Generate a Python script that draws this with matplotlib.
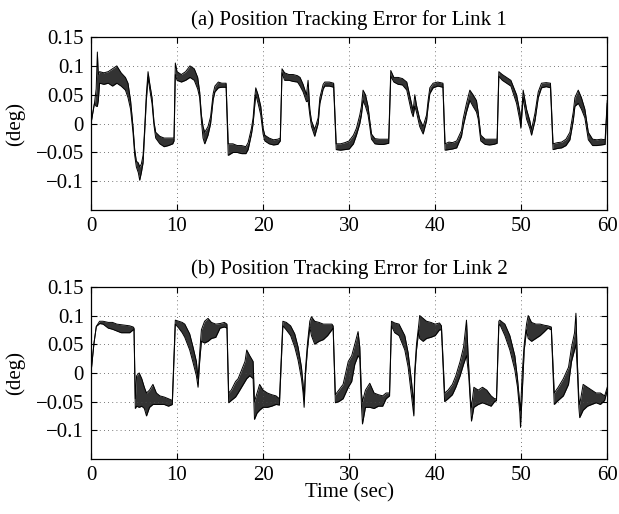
import numpy as np
import matplotlib
matplotlib.use("Agg")
import matplotlib.pyplot as plt

plt.rcParams['font.family'] = ['Liberation Serif', 'DejaVu Serif']

# ---- Link 1: (time, lower envelope, upper envelope) ----
link1_t = [0, 0.4, 0.6, 0.74, 0.85, 1.0, 1.5, 2.0, 2.5, 3.0, 3.5, 4.0, 4.3, 4.6, 4.88, 5.08, 5.27, 5.5, 5.66, 5.85,
           6.05, 6.24, 6.43, 6.63, 6.82, 7.09, 7.32, 7.52, 8.0, 8.5, 9.0, 9.5, 9.65, 9.8, 10.0, 10.5, 11.0, 11.5, 12.0, 12.4,
           12.63, 12.83, 13.02, 13.22, 13.6, 13.9, 14.2, 14.4, 14.8, 15.2, 15.7, 15.95, 16.5, 17.0, 17.5, 18.0, 18.26,
           18.65, 18.84, 19.03, 19.15, 19.42, 19.73, 20.0, 20.2, 20.7, 21.2, 21.7, 22.0, 22.2, 22.5, 23.0, 23.5, 24.0, 24.3,
           24.65, 25.04, 25.23, 25.43, 25.62, 26.0, 26.4, 26.6, 26.98, 27.17, 27.7, 28.2, 28.5, 29.0, 29.5, 30.0,
           30.5, 30.85, 31.24, 31.43, 31.62, 31.9, 32.2, 32.4, 32.6, 33.0, 33.5, 34.0, 34.6, 34.84, 35.2, 35.7, 36.2, 36.7,
           37.25, 37.44, 37.63, 37.83, 38.2, 38.6, 39.0, 39.18, 39.38, 39.76, 40.3, 40.9, 41.15, 41.6, 42.0, 42.5,
           43.06, 43.25, 43.64, 44.03, 44.4, 44.8, 45.0, 45.3, 45.8, 46.3, 46.8, 47.2, 47.4, 47.8, 48.3, 48.8,
           49.46, 49.85, 49.96, 50.23, 50.62, 51.0, 51.2, 51.6, 51.98, 52.36, 52.9, 53.4, 53.7, 54.2, 54.7, 55.2,
           55.66, 56.05, 56.24, 56.63, 57.0, 57.4, 57.8, 58.3, 58.8, 59.3, 59.75, 60.0]
link1_lo = [0, 0.035, 0.03, 0.03, 0.04, 0.07, 0.068, 0.07, 0.065, 0.07, 0.065, 0.058, 0.045, 0.025, -0.015, -0.055, -0.075, -0.085, -0.098, -0.085,
            -0.068, -0.015, 0.04, 0.08, 0.06, 0.035, -0.003, -0.025, -0.035, -0.04, -0.038, -0.035, -0.03, 0.085, 0.075, 0.072, 0.075, 0.08, 0.075, 0.06,
            0.045, 0.005, -0.025, -0.035, -0.02, 0.0, 0.042, 0.055, 0.062, 0.063, 0.063, -0.055, -0.05, -0.05, -0.052, -0.052, -0.045,
            -0.018, 0.0, 0.032, 0.05, 0.035, 0.015, -0.018, -0.03, -0.035, -0.037, -0.036, -0.03, 0.088, 0.075, 0.075, 0.073, 0.072, 0.065,
            0.055, 0.038, 0.04, 0.015, -0.005, -0.022, 0.0, 0.035, 0.06, 0.065, 0.065, 0.063, -0.045, -0.046, -0.045, -0.044,
            -0.035, -0.02, 0.0, 0.015, 0.04, 0.03, 0.015, -0.005, -0.027, -0.035, -0.036, -0.036, -0.034, 0.082, 0.072, 0.068, 0.067, 0.058,
            0.02, 0.012, 0.03, 0.02, -0.005, -0.018, 0.005, 0.03, 0.052, 0.062, 0.065, 0.063, -0.046, -0.045, -0.044, -0.042,
            -0.022, -0.005, 0.02, 0.04, 0.03, 0.02, 0.008, -0.03, -0.036, -0.037, -0.036, -0.034, 0.082, 0.075, 0.07, 0.065,
            0.035, 0.005, -0.008, 0.045, 0.008, -0.008, -0.02, 0.005, 0.045, 0.062, 0.064, 0.062, -0.045, -0.043, -0.042, -0.038,
            -0.028, 0.005, 0.03, 0.035, 0.025, 0.01, -0.028, -0.038, -0.038, -0.037, -0.036, 0.035]
link1_hi = [0, 0.035, 0.06, 0.124, 0.085, 0.09, 0.088, 0.09, 0.095, 0.1, 0.088, 0.08, 0.07, 0.04, -0.005, -0.045, -0.065, -0.068, -0.075, -0.07,
            -0.055, -0.008, 0.05, 0.09, 0.07, 0.045, 0.003, -0.015, -0.022, -0.025, -0.025, -0.025, -0.025, 0.105, 0.09, 0.085, 0.09, 0.1, 0.095, 0.08,
            0.055, 0.015, -0.005, -0.015, -0.005, 0.012, 0.052, 0.065, 0.072, 0.07, 0.07, -0.035, -0.035, -0.038, -0.038, -0.04, -0.033,
            -0.008, 0.01, 0.045, 0.062, 0.05, 0.03, -0.008, -0.02, -0.025, -0.028, -0.027, -0.025, 0.095, 0.088, 0.085, 0.085, 0.083, 0.08,
            0.068, 0.05, 0.075, 0.025, 0.005, -0.01, 0.01, 0.045, 0.068, 0.072, 0.072, 0.07, -0.035, -0.035, -0.033, -0.03,
            -0.02, -0.008, 0.015, 0.03, 0.058, 0.05, 0.03, 0.005, -0.018, -0.026, -0.027, -0.027, -0.027, 0.092, 0.08, 0.08, 0.078, 0.072,
            0.035, 0.022, 0.05, 0.032, 0.008, -0.005, 0.015, 0.04, 0.062, 0.07, 0.072, 0.07, -0.035, -0.032, -0.033, -0.03,
            -0.012, 0.008, 0.035, 0.058, 0.05, 0.04, 0.02, -0.02, -0.027, -0.027, -0.027, -0.027, 0.09, 0.085, 0.08, 0.075,
            0.05, 0.02, 0.0, 0.058, 0.025, 0.005, -0.01, 0.018, 0.055, 0.07, 0.071, 0.07, -0.035, -0.033, -0.032, -0.027,
            -0.015, 0.02, 0.045, 0.058, 0.045, 0.025, -0.015, -0.027, -0.028, -0.027, -0.028, 0.04]

# ---- Link 2: (time, lower envelope, upper envelope) ----
link2_t = [0, 0.35, 0.62, 1.0, 1.4, 2.0, 2.5, 3.0, 3.5, 4.0, 4.5, 4.9, 5.0, 5.15, 5.3, 5.6, 5.9, 6.2, 6.45, 6.8,
           7.2, 7.6, 8.0, 8.5, 9.0, 9.45, 9.8, 10.2, 10.6, 10.9, 11.47, 11.86, 12.25, 12.44, 12.63, 12.83, 13.2, 13.6, 14.0, 14.5,
           15.0, 15.5, 15.8, 16.0, 16.3, 16.8, 17.1, 17.5, 17.9, 18.1, 18.45, 18.84, 19.0, 19.3, 19.6, 20.0, 20.5, 21.0, 21.5, 21.9,
           22.3, 22.7, 23.2, 23.68, 24.07, 24.46, 24.65, 24.77, 24.92, 25.15, 25.43, 25.62, 26.0, 26.5, 27.0, 27.5, 28.0, 28.14,
           28.4, 28.8, 29.3, 29.9, 30.3, 30.66, 31.04, 31.24, 31.43, 31.55, 31.9, 32.4, 32.9, 33.4, 33.9, 34.3, 34.7, 34.92,
           35.3, 35.8, 36.47, 36.86, 37.25, 37.52, 37.63, 37.83, 38.1, 38.2, 38.6, 39.0, 39.5, 40.0, 40.5, 40.73,
           41.1, 41.5, 42.0, 42.4, 42.9, 43.3, 43.64, 43.9, 44.1, 44.22, 44.5, 45.0, 45.5, 46.0, 46.5, 46.9, 47.13, 47.4, 47.5,
           48.1, 48.68, 49.26, 49.57, 49.84, 49.92, 50.12, 50.35, 50.62, 50.81, 51.2, 51.7, 52.2, 52.7, 53.1, 53.5,
           53.84, 54.3, 54.9, 55.5, 55.85, 56.2, 56.36, 56.55, 56.7, 56.8, 57.2, 57.7, 58.2, 58.7, 59.2, 59.7, 60.0]
link2_lo = [0, 0.052, 0.081, 0.086, 0.085, 0.078, 0.076, 0.073, 0.07, 0.07, 0.07, 0.075, 0.075, -0.062, -0.058, -0.06, -0.058, -0.062, -0.075, -0.06,
            -0.055, -0.055, -0.055, -0.055, -0.058, -0.055, 0.085, 0.078, 0.07, 0.062, 0.04, 0.018, -0.005, -0.025, 0.02, 0.055, 0.052, 0.055, 0.06, 0.062,
            0.078, 0.08, 0.078, -0.052, -0.048, -0.042, -0.035, -0.025, -0.015, -0.01, -0.005, -0.01, -0.081, -0.07, -0.065, -0.06, -0.06, -0.058, -0.055, -0.056,
            0.082, 0.075, 0.065, 0.045, 0.022, -0.01, -0.035, -0.06, -0.005, 0.04, 0.08, 0.065, 0.05, 0.055, 0.058, 0.065, 0.075, 0.078,
            -0.052, -0.05, -0.045, -0.025, -0.015, 0.015, 0.03, 0.025, -0.055, -0.089, -0.06, -0.06, -0.062, -0.058, -0.058, -0.045, -0.04, 0.082,
            0.07, 0.065, 0.04, 0.01, -0.04, -0.075, -0.005, 0.04, 0.075, 0.06, 0.055, 0.06, 0.062, 0.065, 0.075, 0.075,
            -0.05, -0.045, -0.038, -0.025, -0.005, 0.015, 0.03, -0.005, -0.055, -0.084, -0.06, -0.055, -0.052, -0.055, -0.058, -0.05, -0.048, 0.082, 0.085,
            0.065, 0.04, 0.005, -0.025, -0.07, -0.095, -0.035, 0.04, 0.075, 0.06, 0.055, 0.06, 0.065, 0.072, 0.078, 0.075,
            -0.055, -0.048, -0.04, -0.02, 0.02, 0.04, 0.05, -0.005, -0.06, -0.078, -0.065, -0.058, -0.055, -0.052, -0.055, -0.048, -0.03]
link2_hi = [0, 0.052, 0.081, 0.09, 0.09, 0.088, 0.088, 0.085, 0.084, 0.083, 0.082, 0.08, 0.078, -0.045, -0.005, 0.0, -0.01, -0.025, -0.035, -0.03,
            -0.02, -0.035, -0.04, -0.042, -0.045, -0.048, 0.092, 0.09, 0.088, 0.085, 0.068, 0.045, 0.02, -0.01, 0.035, 0.075, 0.09, 0.095, 0.088, 0.085,
            0.086, 0.088, 0.085, -0.035, -0.03, -0.015, -0.01, 0.005, 0.02, 0.04, 0.03, 0.02, -0.05, -0.035, -0.02, -0.03, -0.035, -0.038, -0.04, -0.045,
            0.09, 0.088, 0.082, 0.068, 0.045, 0.01, -0.02, -0.045, 0.005, 0.05, 0.09, 0.098, 0.09, 0.088, 0.085, 0.085, 0.085, 0.082,
            -0.038, -0.03, -0.02, 0.02, 0.03, 0.05, 0.072, 0.045, -0.035, -0.05, -0.03, -0.018, -0.035, -0.038, -0.04, -0.035, -0.035, 0.09,
            0.087, 0.085, 0.065, 0.035, -0.015, -0.055, 0.005, 0.05, 0.085, 0.1, 0.095, 0.09, 0.088, 0.085, 0.087, 0.082,
            -0.035, -0.03, -0.02, -0.005, 0.02, 0.045, 0.092, 0.01, -0.045, -0.06, -0.025, -0.03, -0.025, -0.03, -0.04, -0.045, -0.045, 0.09, 0.092,
            0.085, 0.065, 0.03, -0.01, -0.055, -0.065, 0.0, 0.05, 0.085, 0.1, 0.088, 0.085, 0.085, 0.083, 0.082, 0.08,
            -0.035, -0.025, -0.01, 0.01, 0.045, 0.07, 0.104, 0.01, -0.045, -0.055, -0.02, -0.025, -0.03, -0.035, -0.035, -0.04, -0.025]

titles = ["(a) Position Tracking Error for Link 1", "(b) Position Tracking Error for Link 2"]
ylabel = "(deg)"
xlabel = "Time (sec)"
xticks = [0, 10, 20, 30, 40, 50, 60]
yticks = [-0.1, -0.05, 0, 0.05, 0.1, 0.15]
ytick_labels = ["\u22120.1", "\u22120.05", "0", "0.05", "0.1", "0.15"]

FS = 15

fig = plt.figure(figsize=(6.19, 5.14), dpi=100)
ax1 = fig.add_axes([0.147, 0.591, 0.834, 0.337])
ax2 = fig.add_axes([0.147, 0.107, 0.834, 0.335])

series = [(link1_t, link1_lo, link1_hi), (link2_t, link2_lo, link2_hi)]
for ax, (t, lo, hi), title in zip([ax1, ax2], series, titles):
    t = np.array(t); lo = np.array(lo); hi = np.array(hi)
    ax.fill_between(t, lo, hi, color='0.2', linewidth=0)
    ax.plot(t, lo, color='black', lw=0.7)
    ax.plot(t, hi, color='black', lw=0.7)
    ax.set_xlim(0, 60)
    ax.set_ylim(-0.15, 0.15)
    ax.set_xticks(xticks)
    ax.set_yticks(yticks)
    ax.set_yticklabels(ytick_labels)
    ax.grid(True, color='0.3', linestyle=(0, (1, 4)), linewidth=0.6)
    ax.tick_params(direction='in', top=True, right=True, labelsize=FS, length=4, pad=5)
    ax.set_title(title, fontsize=FS, pad=9)
    ax.set_ylabel(ylabel, fontsize=FS, labelpad=8)
    for s in ax.spines.values():
        s.set_linewidth(0.9)

ax2.set_xlabel(xlabel, fontsize=FS, labelpad=-1)

fig.savefig("out.png", dpi=100)
